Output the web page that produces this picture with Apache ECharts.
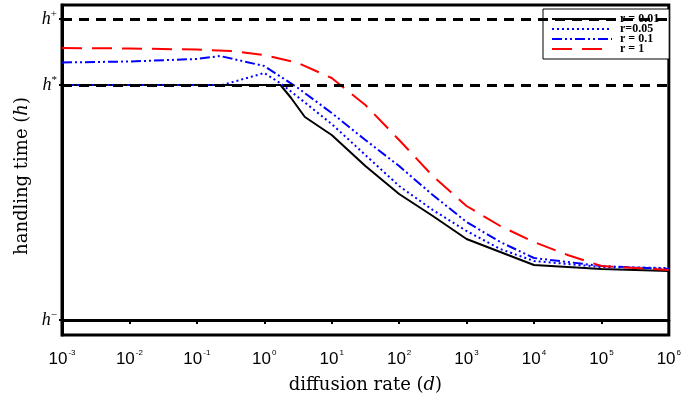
<!DOCTYPE html>
<html>
<head>
<meta charset="utf-8">
<script src="https://cdn.jsdelivr.net/npm/echarts@6/dist/echarts.min.js"></script>
<style>html,body{margin:0;padding:0;background:#fff}#c{width:684px;height:405px}</style>
</head>
<body>
<div id="c"></div>
<script>
// Series data: diffusion rate d and handling time h (units where h- = 0, h+ = 301)
var seriesNames = ['r = 0.01', 'r=0.05', 'r = 0.1', 'r = 1'];
var d_r001 = [1e-3, 1.74, 2.5, 4, 10, 31.6, 100, 316, 1000, 3162, 1e4, 1e5, 1e6];
var h_r001 = [235, 235, 222, 203, 185, 154, 126, 104, 81, 68, 55, 51, 49];
var d_r005 = [1e-3, 0.24, 1, 1.8, 3.16, 10, 31.6, 100, 316, 1000, 3162, 1e4, 1e5, 1e6];
var h_r005 = [235, 235, 247, 236, 223, 196, 165, 134, 110, 89, 71, 59, 53, 52];
var d_r01 = [1e-3, 1e-2, 0.1, 0.22, 1, 3.16, 10, 31.6, 100, 316, 1000, 3162, 1e4, 1e5, 1e6];
var h_r01 = [257.5, 258.5, 261, 264, 254, 232, 207, 180, 154, 125, 98, 78, 62, 54, 51];
var d_r1 = [1e-3, 1e-2, 0.1, 0.316, 1, 3.16, 10, 31.6, 100, 316, 1000, 3162, 1e4, 3.16e4, 1e5, 1e6];
var h_r1 = [272, 271.5, 270.5, 269, 265, 257, 242, 215, 180, 144, 114, 94, 78, 65, 54, 50];
// reference levels h-, h*, h+
var hLevels = [0, 235, 301];
var hLevelLabels = ['{h|h}{s|\u2212}', '{h|h}{s|*}', '{h|h}{s|+}'];

function pairs(xs, ys) { return xs.map(function (x, i) { return [x, ys[i]]; }); }

var chart = echarts.init(document.getElementById('c'));
var serif = 'DejaVu Serif';
chart.setOption({
  animation: false,
  grid: { left: 62, right: 8, top: 5, bottom: 70, show: true, borderColor: '#000', borderWidth: 3, backgroundColor: 'transparent' },
  legend: {
    data: seriesNames,
    orient: 'vertical',
    left: 543, top: 9,
    itemWidth: 60, itemHeight: 10, itemGap: -2,
    padding: [4, 10, 4, 8],
    borderColor: '#000', borderWidth: 1,
    backgroundColor: '#fff',
    itemStyle: { opacity: 0 },
    textStyle: { fontFamily: 'Liberation Serif', fontWeight: 'bold', fontSize: 12, color: '#000', padding: [0, 0, 0, 3] }
  },
  xAxis: {
    type: 'log', logBase: 10, min: 1e-3, max: 1e6, splitNumber: 9,
    name: '{n|diffusion rate (}{i|d}{n|)}',
    nameLocation: 'middle', nameGap: 41,
    nameTextStyle: { rich: { n: { fontFamily: serif, fontSize: 18, color: '#000' }, i: { fontFamily: serif, fontStyle: 'italic', fontSize: 18, color: '#000' } } },
    axisLine: { lineStyle: { color: '#000', width: 3 } },
    axisTick: { show: true, length: 4, lineStyle: { color: '#000', width: 2 } },
    splitLine: { show: false },
    minorTick: { show: false },
    axisLabel: {
      margin: 14,
      formatter: function (v) { var e = Math.round(Math.log10(v)); return '{b|10}{e|' + e + '}'; },
      rich: {
        b: { fontFamily: 'Liberation Sans', fontSize: 17, color: '#000' },
        e: { fontFamily: 'Liberation Sans', fontSize: 8, color: '#000', verticalAlign: 'top', padding: [0, 0, 12, 1] }
      }
    }
  },
  yAxis: {
    type: 'value', min: -15, max: 315,
    name: '{n|handling time (}{i|h}{n|)}',
    nameLocation: 'middle', nameGap: 31, nameRotate: 90,
    nameTextStyle: { padding: [0, 12, 0, 0], rich: { n: { fontFamily: serif, fontSize: 18, color: '#000' }, i: { fontFamily: serif, fontStyle: 'italic', fontSize: 18, color: '#000' } } },
    axisLine: { show: true, lineStyle: { color: '#000', width: 3 } },
    axisTick: { show: true, length: 3, customValues: hLevels, lineStyle: { color: '#000', width: 2 } },
    splitLine: { show: false },
    axisLabel: {
      margin: 5,
      customValues: hLevels,
      formatter: function (v) { return hLevelLabels[hLevels.indexOf(v)]; },
      rich: {
        h: { fontFamily: 'Liberation Serif', fontStyle: 'italic', fontSize: 18, color: '#000' },
        s: { fontFamily: 'Liberation Serif', fontSize: 11, color: '#000', verticalAlign: 'top', padding: [0, 0, 10, 0] }
      }
    }
  },
  series: [
    {
      name: 'levels', type: 'line', data: [], silent: true,
      markLine: {
        silent: true, symbol: 'none', animation: false,
        label: { show: false },
        lineStyle: { color: '#000', width: 3, type: [10, 7] },
        data: hLevels.map(function (v) { return { yAxis: v }; })
      }
    },
    { name: seriesNames[0], type: 'line', symbol: 'none', data: pairs(d_r001, h_r001), color: '#000', lineStyle: { color: '#000', width: 2, type: 'solid' } },
    { name: seriesNames[1], type: 'line', symbol: 'none', data: pairs(d_r005, h_r005), color: '#0000ff', lineStyle: { color: '#0000ff', width: 2, type: [2, 3] } },
    { name: seriesNames[2], type: 'line', symbol: 'none', data: pairs(d_r01, h_r01), color: '#0000ff', lineStyle: { color: '#0000ff', width: 2, type: [10, 3, 2, 3, 2, 3] } },
    { name: seriesNames[3], type: 'line', symbol: 'none', data: pairs(d_r1, h_r1), color: '#ff0000', lineStyle: { color: '#ff0000', width: 2, type: [20, 10] } }
  ]
});
</script>
</body>
</html>
